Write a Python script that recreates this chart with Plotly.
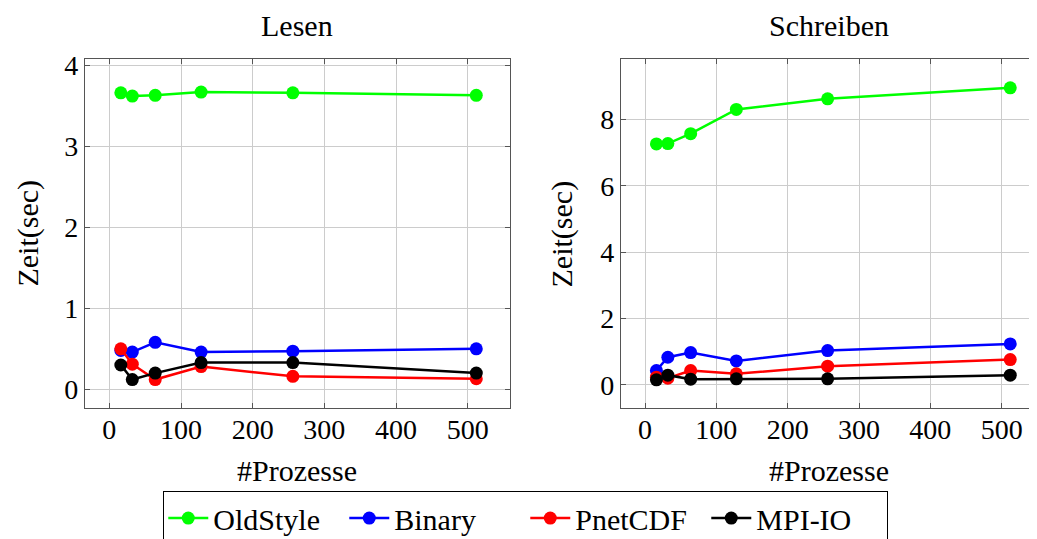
import plotly.graph_objects as go

procs = [16, 32, 64, 128, 256, 512]

read_oldstyle = [3.66, 3.62, 3.63, 3.67, 3.66, 3.63]
read_binary = [0.48, 0.46, 0.58, 0.46, 0.47, 0.50]
read_pnetcdf = [0.50, 0.31, 0.12, 0.28, 0.16, 0.13]
read_mpiio = [0.30, 0.12, 0.20, 0.33, 0.33, 0.20]

write_oldstyle = [7.26, 7.27, 7.57, 8.30, 8.62, 8.95]
write_binary = [0.43, 0.83, 0.97, 0.72, 1.03, 1.23]
write_pnetcdf = [0.23, 0.20, 0.43, 0.33, 0.56, 0.76]
write_mpiio = [0.15, 0.29, 0.17, 0.18, 0.18, 0.29]

names = ["OldStyle", "Binary", "PnetCDF", "MPI-IO"]
colors = ["#00ff00", "#0000ff", "#ff0000", "#000000"]

FONT = "Liberation Serif"
FS = 28
FS_LABEL = 30
fig = go.Figure()

read_series = [read_oldstyle, read_binary, read_pnetcdf, read_mpiio]
write_series = [write_oldstyle, write_binary, write_pnetcdf, write_mpiio]

for name, col, ys in zip(names, colors, read_series):
    fig.add_trace(go.Scatter(x=procs, y=ys, mode="lines+markers", name=name,
                             line=dict(color=col, width=2.5),
                             marker=dict(color=col, size=13),
                             xaxis="x", yaxis="y", legendgroup=name))
for name, col, ys in zip(names, colors, write_series):
    fig.add_trace(go.Scatter(x=procs, y=ys, mode="lines+markers", name=name,
                             line=dict(color=col, width=2.5),
                             marker=dict(color=col, size=13),
                             xaxis="x2", yaxis="y2", legendgroup=name,
                             showlegend=False))

axis_common = dict(ticks="inside", ticklen=5, tickcolor="#555555",
                   showline=True, linecolor="#555555", linewidth=1.3,
                   showgrid=True, gridcolor="#cccccc", gridwidth=1,
                   zeroline=False, tickfont=dict(family=FONT, size=FS, color="black"))

fig.update_layout(
    width=1029, height=531,
    margin=dict(l=77, r=0, t=51, b=131, autoexpand=False),
    plot_bgcolor="white", paper_bgcolor="white",
    font=dict(family=FONT, size=FS, color="black"),
    xaxis=dict(domain=[0, 0.4464], range=[-34, 559], tickvals=[0, 100, 200, 300, 400, 500],
               mirror="allticks", anchor="y", ticklabelstandoff=-4, **axis_common),
    yaxis=dict(domain=[0, 1], range=[-0.231, 4.078], tickvals=[0, 1, 2, 3, 4],
               mirror="allticks", anchor="x", **axis_common),
    xaxis2=dict(domain=[0.563, 1], range=[-33.7, 549.5], tickvals=[0, 100, 200, 300, 400, 500],
                mirror="allticks", anchor="y2", ticklabelstandoff=-4, **axis_common),
    yaxis2=dict(domain=[0, 1], range=[-0.70, 9.82], tickvals=[0, 2, 4, 6, 8],
                mirror=False, anchor="x2", **axis_common),
    showlegend=True,
    legend=dict(orientation="h", x=0.4630, xanchor="center", y=-0.238, yanchor="top",
                bordercolor="black", borderwidth=1, bgcolor="white",
                font=dict(family=FONT, size=FS_LABEL, color="black"),
                itemwidth=40, entrywidth=126, entrywidthmode="pixels", tracegroupgap=0),
)

annos = [
    dict(text="Lesen", x=0.2232, y=1.097),
    dict(text="Schreiben", x=0.7815, y=1.097),
    dict(text="#Prozesse", x=0.2232, y=-0.178),
    dict(text="#Prozesse", x=0.7815, y=-0.178),
]
for a in annos:
    fig.add_annotation(text=a["text"], x=a["x"], y=a["y"], xref="paper", yref="paper",
                       xanchor="center", yanchor="middle", showarrow=False,
                       font=dict(family=FONT, size=FS_LABEL, color="black"))
for xp in [-0.0609, 0.501]:
    fig.add_annotation(text="Zeit(sec)", x=xp, y=0.5, xref="paper", yref="paper",
                       xanchor="center", yanchor="middle", textangle=-90, showarrow=False,
                       font=dict(family=FONT, size=FS_LABEL, color="black"))

fig.write_html("out.html")
